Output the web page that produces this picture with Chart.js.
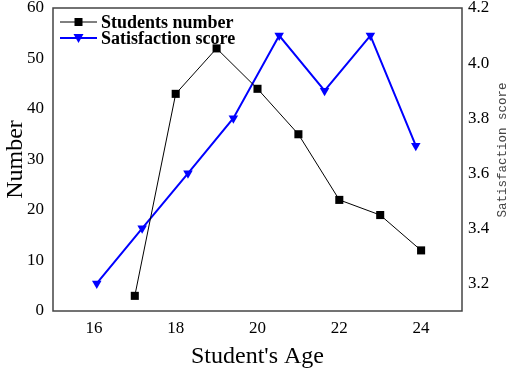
<!DOCTYPE html>
<html>
<head>
<meta charset="utf-8">
<script src="https://cdn.jsdelivr.net/npm/chart.js@4/dist/chart.umd.min.js"></script>
<style>
  html, body { margin: 0; padding: 0; background: #fff; }
  #wrap { width: 510px; height: 371px; position: relative; }
</style>
</head>
<body>
<div id="wrap"><canvas id="c"></canvas></div>
<script>
// data
const studentAges = [17, 18, 19, 20, 21, 22, 23, 24];
const studentCounts = [3, 43, 52, 44, 35, 22, 19, 12];
const scoreAges = [16.07, 17.18, 18.3, 19.41, 20.53, 21.64, 22.76, 23.87];
const scoreValues = [3.2, 3.4, 3.6, 3.8, 4.1, 3.9, 4.1, 3.7];
const xTicks = [16, 18, 20, 22, 24];
const scoreTicks = [3.2, 3.4, 3.6, 3.8, 4.0, 4.2];
const rightTitle = 'Satisfaction score';

const serif = '"Liberation Serif", "Times New Roman", serif';
const axisColor = '#444';

function toPoints(xs, ys) {
  return xs.map((x, i) => ({ x: x, y: ys[i] }));
}

// fixed axis widths, no extra room for the end tick labels
function fitY(width) {
  return (s) => {
    s.width = width;
    s.paddingTop = 0;
    s.paddingBottom = 0;
  };
}

// frame around the plot area, legend inside it, right-hand title read bottom-up
const framePlugin = {
  id: 'frame',
  afterDraw(chart) {
    const { ctx, chartArea: a } = chart;
    ctx.save();
    ctx.strokeStyle = axisColor;
    ctx.lineWidth = 1.5;
    ctx.strokeRect(a.left, a.top, a.right - a.left, a.bottom - a.top);

    // legend
    chart.data.datasets.forEach((ds, i) => {
      const y = a.top + 14 + i * 16;
      const x0 = a.left + 7, x1 = a.left + 44;
      ctx.strokeStyle = ds.borderColor;
      ctx.lineWidth = ds.borderWidth;
      ctx.beginPath();
      ctx.moveTo(x0, y);
      ctx.lineTo(x1, y);
      ctx.stroke();
      const mx = (x0 + x1) / 2;
      ctx.fillStyle = ds.borderColor;
      ctx.beginPath();
      if (ds.pointStyle === 'rect') {
        ctx.rect(mx - 4, y - 4, 8, 8);
      } else {
        ctx.moveTo(mx - 5, y - 4);
        ctx.lineTo(mx + 5, y - 4);
        ctx.lineTo(mx, y + 5);
        ctx.closePath();
      }
      ctx.fill();
      ctx.fillStyle = '#000';
      ctx.font = 'bold 18px ' + serif;
      ctx.textBaseline = 'middle';
      ctx.textAlign = 'left';
      ctx.fillText(ds.label, x1 + 4, y + 1);
    });

    // right axis title
    ctx.translate(503, 150);
    ctx.rotate(-Math.PI / 2);
    ctx.fillStyle = '#444';
    ctx.font = '12.5px "Liberation Mono", "Courier New", monospace';
    ctx.textAlign = 'center';
    ctx.textBaseline = 'middle';
    ctx.fillText(rightTitle, 0, 0);
    ctx.restore();
  }
};

new Chart(document.getElementById('c'), {
  type: 'line',
  data: {
    datasets: [
      {
        label: 'Students number',
        data: toPoints(studentAges, studentCounts),
        yAxisID: 'y',
        borderColor: '#000',
        backgroundColor: '#000',
        borderWidth: 1,
        pointStyle: 'rect',
        pointRadius: 5.7,
        pointBorderWidth: 0,
        tension: 0
      },
      {
        label: 'Satisfaction score',
        data: toPoints(scoreAges, scoreValues),
        yAxisID: 'y2',
        borderColor: '#0000ff',
        backgroundColor: '#0000ff',
        borderWidth: 2,
        pointStyle: 'triangle',
        rotation: 180,
        pointRadius: 5.5,
        pointBorderWidth: 0,
        tension: 0
      }
    ]
  },
  options: {
    responsive: true,
    maintainAspectRatio: false,
    animation: false,
    layout: { padding: { top: 8, left: 0, right: 0, bottom: 0 } },
    plugins: {
      legend: { display: false },
      tooltip: { enabled: false }
    },
    scales: {
      x: {
        type: 'linear',
        min: 15,
        max: 25,
        afterBuildTicks: (s) => { s.ticks = xTicks.map(v => ({ value: v })); },
        afterFit: (s) => { s.height = 60; s.paddingLeft = 0; s.paddingRight = 0; },
        grid: { display: false, drawTicks: false },
        border: { display: false },
        ticks: { color: '#000', font: { family: serif, size: 17 }, padding: 7, maxRotation: 0 },
        title: { display: true, text: "Student's Age", color: '#000', font: { family: serif, size: 24 }, padding: { top: 2, bottom: 0 } }
      },
      y: {
        position: 'left',
        min: 0,
        max: 60,
        afterFit: fitY(53),
        grid: { display: false, drawTicks: false },
        border: { display: false },
        ticks: { stepSize: 10, color: '#000', font: { family: serif, size: 17 }, padding: 9 },
        title: { display: true, text: 'Number', color: '#000', font: { family: serif, size: 24 }, padding: { top: 1, bottom: 0 } }
      },
      y2: {
        position: 'right',
        min: 3.1,
        max: 4.2,
        afterBuildTicks: (s) => { s.ticks = scoreTicks.map(v => ({ value: v })); },
        afterFit: fitY(48),
        grid: { display: false, drawTicks: false },
        border: { display: false },
        ticks: { color: '#000', font: { family: serif, size: 17 }, padding: 6, callback: (v) => v.toFixed(1) },
        title: { display: false }
      }
    }
  },
  plugins: [framePlugin]
});
</script>
</body>
</html>
